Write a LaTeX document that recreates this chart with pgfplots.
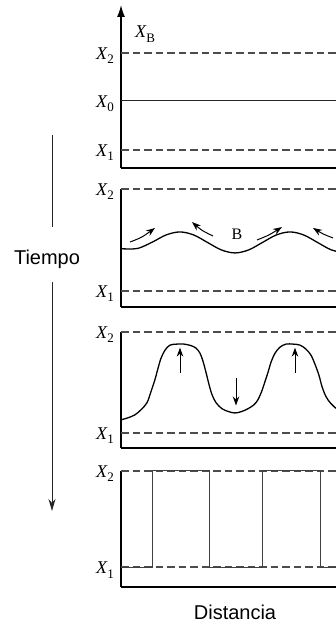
\documentclass[border=0pt]{standalone}
\usepackage{pgfplots}
\pgfplotsset{compat=1.18}
\usepackage{fontspec}
\setmainfont{Liberation Sans}
\newfontfamily\serif{Liberation Serif}
\usetikzlibrary{arrows.meta}
\newcommand\Xl[1]{{\fontsize{18}{18}\selectfont\serif\itshape X}\kern0.3pt\raisebox{-4.5pt}{\fontsize{13}{13}\selectfont\serif #1}}
\pgfplotsset{panel/.style={
  scale only axis, width=215pt, xmin=121, xmax=336,
  enlargelimits=false,
  axis lines=left, axis line style={-, line width=1.4pt, black},
  xtick=\empty, major tick length=0pt,
  ytick={1,2}, yticklabels={\Xl{1},\Xl{2}},
  yticklabel style={anchor=base east, inner sep=0pt, xshift=-7pt, yshift=-6.5pt},
  anchor=south west,
},
dsh/.style={dash pattern=on 7.5pt off 4pt, line width=1.1pt, black!70},
crv/.style={line width=1.3pt, black, smooth, tension=0.55},
arr/.style={line width=1pt, black, -{Stealth[length=9pt,width=6.5pt]}},
}
\begin{document}
\begin{tikzpicture}
\useasboundingbox (0,0) rectangle (336pt,628pt);
% Panel 1
\begin{axis}[panel, at={(121pt,460pt)}, height=163pt, ymin=0.814, ymax=2.495,
  ytick={1,1.505,2}, yticklabels={\Xl{1},\Xl{0},\Xl{2}},
  y axis line style={-{Latex[length=12pt,width=8pt]}}]
\addplot[dsh] coordinates {(121,2) (336,2)};
\addplot[dsh] coordinates {(121,1) (336,1)};
\addplot[line width=1pt, black!85] coordinates {(121,1.505) (336,1.505)};
\node[anchor=base west, inner sep=0pt] at (axis cs:135,2.155) {\Xl{B}};
\end{axis}
% Panel 2
\begin{axis}[panel, at={(121pt,321pt)}, height=118pt, ymin=0.843, ymax=2]
\addplot[dsh] coordinates {(121,2) (336,2)};
\addplot[dsh] coordinates {(121,1) (336,1)};
\addplot[crv] coordinates {(121,1.415)(128,1.412)(138.75,1.420)(152.5,1.480)(166.25,1.550)(180,1.579)(193.75,1.549)(207.5,1.476)(221.25,1.403)(235,1.373)(248.75,1.403)(262.5,1.476)(276.25,1.549)(290,1.579)(303.75,1.549)(317.5,1.476)(331.25,1.403)(345,1.373)};
\addplot[arr, smooth] coordinates {(130,1.480)(142,1.530)(155,1.618)};
\addplot[arr, smooth] coordinates {(213,1.539)(202,1.595)(192,1.676)};
\addplot[arr, smooth] coordinates {(257,1.500)(269,1.550)(282,1.627)};
\addplot[arr, smooth] coordinates {(333,1.520)(323,1.560)(313,1.618)};
\node[font=\fontsize{16}{16}\selectfont\serif] at (axis cs:237,1.56) {B};
\end{axis}
% Panel 3
\begin{axis}[panel, at={(121pt,180pt)}, height=116pt, ymin=0.851, ymax=2]
\addplot[dsh] coordinates {(121,2) (336,2)};
\addplot[dsh] coordinates {(121,1) (336,1)};
\addplot[crv] coordinates {(121,1.13)(128,1.15)(135,1.18)(141,1.23)(147,1.30)(151,1.41)(155,1.53)(158,1.64)(161,1.74)(165,1.82)(170,1.87)(177,1.88)(184,1.88)(191,1.865)(196,1.84)(200,1.79)(203,1.71)(206,1.60)(209,1.48)(212,1.38)(216,1.30)(222,1.24)(229,1.21)(235,1.198)(241,1.21)(248,1.24)(254,1.28)(258,1.33)(262,1.42)(265,1.51)(268,1.60)(271,1.70)(275,1.79)(280,1.85)(286,1.88)(293,1.88)(300,1.87)(306,1.83)(311,1.77)(315,1.68)(319,1.57)(322,1.46)(326,1.36)(331,1.29)(338,1.23)(346,1.20)};
\addplot[arr] coordinates {(180,1.594)(180,1.845)};
\addplot[arr] coordinates {(236,1.545)(236,1.272)};
\addplot[arr] coordinates {(295,1.594)(295,1.845)};
\end{axis}
% Panel 4
\begin{axis}[panel, at={(121pt,41pt)}, height=116pt, ymin=0.792, ymax=2]
\addplot[dsh] coordinates {(121,2) (336,2)};
\addplot[dsh] coordinates {(121,1) (336,1)};
\addplot[line width=1pt, black!75] coordinates {(121,1)(152,1)(152,2)(209,2)(209,1)(262,1)(262,2)(320,2)(320,1)(336,1)};
\end{axis}
% Time annotation
\node[font=\fontsize{20}{20}\selectfont, anchor=base] at (47pt,363pt) {Tiempo};
\draw[line width=1pt, black!85] (52pt,493pt) -- (52pt,401pt);
\draw[line width=1pt, black!85, -{Stealth[length=12pt,width=7pt]}] (52pt,346pt) -- (52pt,117pt);
\node[font=\fontsize{20}{20}\selectfont, anchor=base] at (235pt,9pt) {Distancia};
\end{tikzpicture}
\end{document}
